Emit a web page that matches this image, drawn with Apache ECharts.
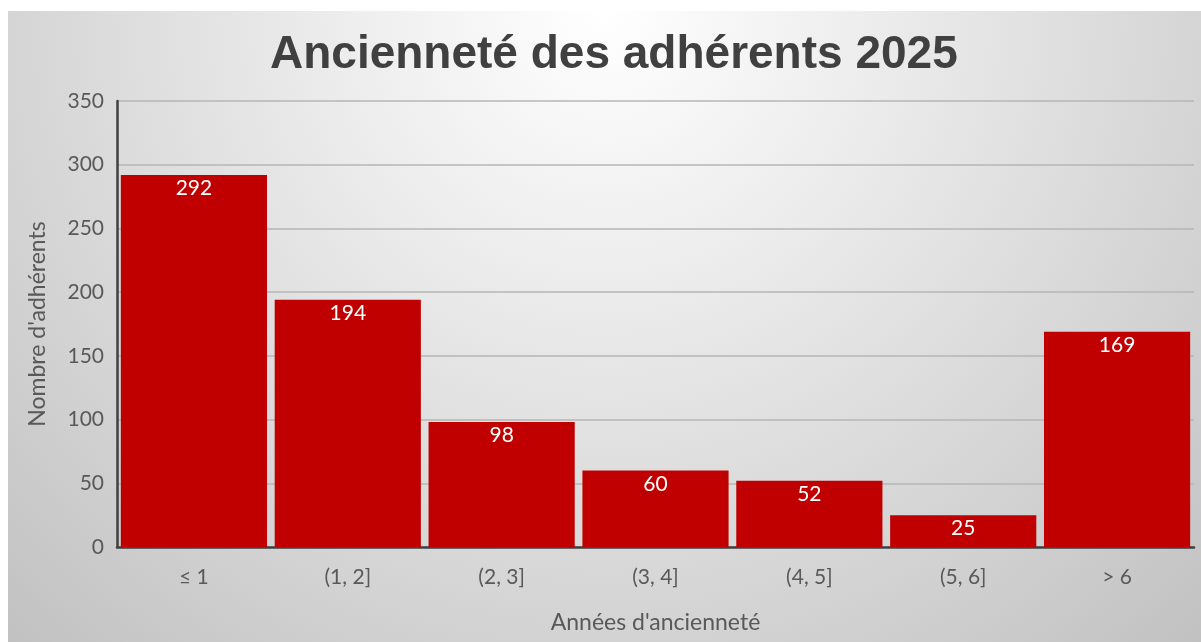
<!DOCTYPE html>
<html><head><meta charset="utf-8">
<script src="https://cdn.jsdelivr.net/npm/echarts@6/dist/echarts.min.js"></script>
<style>html,body{margin:0;padding:0;background:#fff;overflow:hidden;}#c{width:1201px;height:642px;}</style>
</head><body><div id="c"></div>
<script>
const categories = ['≤ 1', '(1, 2]', '(2, 3]', '(3, 4]', '(4, 5]', '(5, 6]', '> 6'];
const counts = [292, 194, 98, 60, 52, 25, 169];
const titleText = 'Ancienneté des adhérents 2025';
const xName = "Années d'ancienneté";
const yName = "Nombre d'adhérents";

const chart = echarts.init(document.getElementById('c'));
const labelFont = 'Lato, "Open Sans", sans-serif';
chart.setOption({
  animation: false,
  graphic: [{
    type: 'rect', z: -10, silent: true,
    shape: {x: 8, y: 11, width: 1193, height: 631},
    style: {fill: new echarts.graphic.RadialGradient(0.5, 0.0, 1.38, [
      {offset: 0, color: '#ffffff'},
      {offset: 0.3, color: '#ededed'},
      {offset: 0.65, color: '#d7d7d7'},
      {offset: 1, color: '#c1c1c1'}
    ])}
  }],
  title: {
    text: titleText, left: 265, top: 27,
    textStyle: {fontFamily: '"Liberation Sans", Arial, sans-serif', fontWeight: 'bold', fontSize: 46, color: '#404040'}
  },
  grid: {left: 117, right: 7, top: 101, bottom: 95, containLabel: false},
  xAxis: {
    type: 'category', data: categories,
    name: xName, nameLocation: 'middle', nameGap: 64,
    nameTextStyle: {fontFamily: labelFont, fontSize: 23, color: '#595959', verticalAlign: 'top'},
    axisLine: {lineStyle: {color: '#404040', width: 2.5}},
    axisTick: {show: false},
    axisLabel: {fontFamily: labelFont, fontSize: 21, color: '#595959', margin: 20}
  },
  yAxis: {
    type: 'value', min: 0, max: 350, interval: 50,
    name: yName, nameLocation: 'middle', nameGap: 68, nameRotate: 90,
    nameTextStyle: {fontFamily: labelFont, fontSize: 23, color: '#595959'},
    axisLine: {show: true, lineStyle: {color: '#404040', width: 2.5}},
    axisTick: {show: false},
    axisLabel: {fontFamily: labelFont, fontSize: 21, color: '#595959', margin: 13},
    splitLine: {lineStyle: {color: '#b6b6b6', width: 1.5}}
  },
  series: [{
    type: 'bar', data: counts, barCategoryGap: '5%',
    itemStyle: {color: '#C00000'},
    label: {show: true, position: 'insideTop', distance: 3, color: '#ffffff', fontFamily: labelFont, fontSize: 21}
  }]
});
</script></body></html>
